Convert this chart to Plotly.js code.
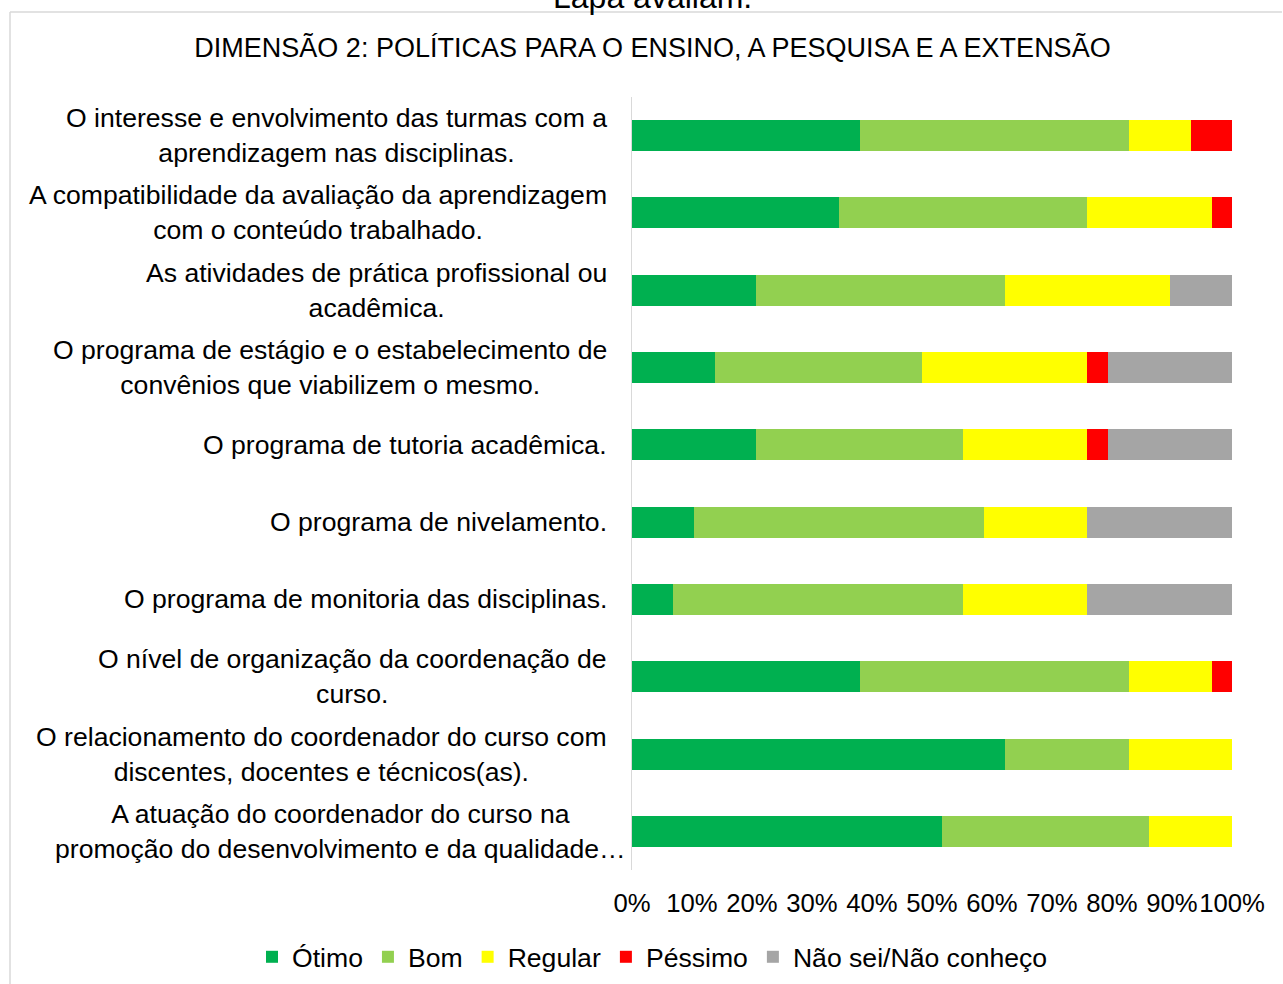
<!DOCTYPE html>
<html>
<head>
<meta charset="utf-8">
<script src="https://cdn.plot.ly/plotly-3.0.1.min.js"></script>
<style>
  html, body { margin: 0; padding: 0; background: #ffffff; overflow: hidden; }
  #chart { width: 1283px; height: 984px; }
</style>
</head>
<body>
<div id="chart"></div>
<script>
// Categories (top to bottom)
const categories = [
  "O interesse e envolvimento das turmas com a<br>aprendizagem nas disciplinas.",
  "A compatibilidade da avaliação da aprendizagem<br>com o conteúdo trabalhado.",
  "As atividades de prática profissional ou<br>acadêmica.",
  "O programa de estágio e o estabelecimento de<br>convênios que viabilizem o mesmo.",
  "O programa de tutoria acadêmica.",
  "O programa de nivelamento.",
  "O programa de monitoria das disciplinas.",
  "O nível de organização da coordenação de<br>curso.",
  "O relacionamento do coordenador do curso com<br>discentes, docentes e técnicos(as).",
  "A atuação do coordenador do curso na<br>promoção do desenvolvimento e da qualidade…"
];

// Series values (percent of respondents)
const otimo   = [37.9, 34.5, 20.7, 13.8, 20.7, 10.3,  6.9, 37.9, 62.1, 51.7];
const bom     = [44.8, 41.4, 41.4, 34.5, 34.5, 48.3, 48.3, 44.8, 20.7, 34.5];
const regular = [10.3, 20.7, 27.6, 27.6, 20.7, 17.2, 20.7, 13.8, 17.2, 13.8];
const pessimo = [ 6.9,  3.4,  0.0,  3.4,  3.4,  0.0,  0.0,  3.4,  0.0,  0.0];
const naoSei  = [ 0.0,  0.0, 10.3, 20.7, 20.7, 24.1, 24.1,  0.0,  0.0,  0.0];

const seriesNames = ["Ótimo", "Bom", "Regular", "Péssimo", "Não sei/Não conheço"];
const seriesColors = ["#00B050", "#92D050", "#FFFF00", "#FF0000", "#A5A5A5"];
const seriesValues = [otimo, bom, regular, pessimo, naoSei];

const xTickVals = [0, 10, 20, 30, 40, 50, 60, 70, 80, 90, 100];
const xTickText = ["0%", "10%", "20%", "30%", "40%", "50%", "60%", "70%", "80%", "90%", "100%"];

const chartTitle = "DIMENSÃO 2: POLÍTICAS PARA O ENSINO, A PESQUISA E A EXTENSÃO";
const topCutText = "Lapa avaliam.";

const FONT = "Arial, 'Liberation Sans', sans-serif";

const traces = seriesNames.map((name, i) => ({
  type: "bar",
  orientation: "h",
  name: name,
  y: categories,
  x: seriesValues[i],
  marker: { color: seriesColors[i], line: { width: 0 } },
  hoverinfo: "x+name"
}));

const labelAnnotations = categories.map((c, i) => ({
  xref: "paper", yref: "y",
  x: 0, y: c,
  xanchor: "right", yanchor: "middle",
  // the last (truncated) label reaches right up to the axis line
  xshift: i === categories.length - 1 ? -4 : -23,
  align: "center",
  text: c,
  showarrow: false,
  font: { family: FONT, size: 26.6, color: "#000000" }
}));

// plot area in pixels: x 632..1232, y 97..870
const annotations = labelAnnotations.concat([{
  xref: "paper", yref: "paper",
  x: (652 - 632) / 600, y: (870 - 17) / 773,
  xanchor: "center", yanchor: "bottom",
  text: topCutText, showarrow: false,
  font: { family: FONT, size: 32, color: "#000000" }
}]);

const layout = {
  width: 1283, height: 984,
  paper_bgcolor: "#ffffff", plot_bgcolor: "#ffffff",
  margin: { l: 632, r: 51, t: 97, b: 114, pad: 0, autoexpand: false },
  barmode: "stack",
  barnorm: "percent",
  bargap: 0.6,
  font: { family: FONT, size: 26, color: "#000000" },
  title: {
    text: chartTitle,
    xref: "container", yref: "container",
    x: 652.5 / 1283, y: 1 - 48 / 984,
    xanchor: "center", yanchor: "middle",
    font: { family: FONT, size: 27, color: "#000000" }
  },
  xaxis: {
    range: [0, 100],
    tickvals: xTickVals, ticktext: xTickText,
    tickangle: 0,
    ticklabeloverflow: "allow",
    ticklabelstandoff: 15,
    showgrid: false, zeroline: false, showline: false, ticks: "",
    tickfont: { family: FONT, size: 25.7, color: "#000000" },
    fixedrange: true
  },
  yaxis: {
    type: "category",
    autorange: "reversed",
    showticklabels: false,
    showgrid: false, zeroline: false,
    showline: true, linecolor: "#D9D9D9", linewidth: 1.5,
    ticks: "",
    fixedrange: true
  },
  legend: {
    orientation: "h",
    xref: "paper", yref: "paper",
    x: (252 - 632) / 600, y: (870 - 957) / 773,
    xanchor: "left", yanchor: "middle",
    traceorder: "normal",
    font: { family: FONT, size: 26.6, color: "#000000" },
    bgcolor: "rgba(0,0,0,0)"
  },
  annotations: annotations,
  shapes: [
    { type: "line", xref: "paper", yref: "paper",
      x0: (10 - 632) / 600, x1: (10 - 632) / 600,
      y0: (870 - 12) / 773, y1: (870 - 1000) / 773,
      line: { color: "#D9D9D9", width: 1.5 } },
    { type: "line", xref: "paper", yref: "paper",
      x0: (10 - 632) / 600, x1: (1282 - 632) / 600,
      y0: (870 - 12) / 773, y1: (870 - 12) / 773,
      line: { color: "#D9D9D9", width: 1.5 } }
  ],
  showlegend: true
};

Plotly.newPlot("chart", traces, layout, { displayModeBar: false, staticPlot: true });
</script>
</body>
</html>
